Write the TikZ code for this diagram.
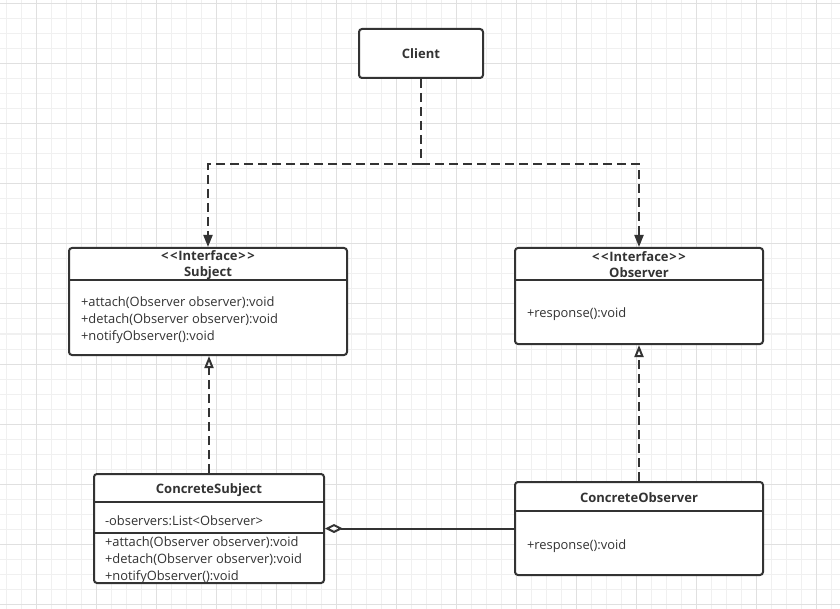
\documentclass[tikz,border=0pt]{standalone}
\usepackage{fontspec}
\setmainfont{Open Sans}[Ligatures=TeXOff]
\usetikzlibrary{arrows.meta, positioning, calc}
\definecolor{cdark}{HTML}{333333}
\definecolor{cminor}{HTML}{F0F0F0}
\definecolor{cmajor}{HTML}{E0E0E0}
\tikzset{
  every picture/.style={x=1pt, y=-1pt, line width=2pt},
  classbox/.style={draw=cdark, fill=white, rounded corners=3pt, inner sep=0pt},
  divider/.style={draw=cdark, line width=2pt},
  heading/.style={font=\bfseries\fontsize{13}{16}\selectfont, text=cdark, align=center, inner sep=0pt},
  members/.style={font=\fontsize{12.9}{17}\selectfont, text=cdark, align=left, inner sep=0pt, anchor=west},
  dashline/.style={draw=cdark, dash pattern=on 9pt off 5pt},
  depends/.style={dashline, -{Triangle[length=12pt, width=9pt]}},
  realizes/.style={dashline, -{Triangle[open, length=12pt, width=9pt, line width=2pt]}},
  aggregates/.style={draw=cdark, {Diamond[open, length=18pt, width=9pt, line width=2pt]}-},
}
\newcommand{\stereo}{<\hspace{1.5pt}<\hspace{0.8pt}Interface\hspace{0.8pt}>\hspace{1.5pt}>}

\begin{document}
\begin{tikzpicture}
  \useasboundingbox (0,0) rectangle (840,609);
  % background grid
  \foreach \x in {6,21,...,840} \draw[cminor, line width=1pt] (\x,0) -- (\x,609);
  \foreach \y in {4,19,...,609} \draw[cminor, line width=1pt] (0,\y) -- (840,\y);
  \foreach \x in {36,96,...,840} \draw[cmajor, line width=1pt] (\x,0) -- (\x,609);
  \foreach \y in {4,64,...,609} \draw[cmajor, line width=1pt] (0,\y) -- (840,\y);

  % classes
  \node[classbox, minimum width=124, minimum height=49, font=\bfseries\fontsize{13}{16}\selectfont, text=cdark] (client) at (421,53.5) {Client};

  \node[classbox, minimum width=278, minimum height=107] (subject) at (208,301.5) {};
  \draw[divider] ($(subject.north west)+(0,33)$) -- ($(subject.north east)+(0,33)$);
  \node[heading] (subjecthead) at (208,265) {\stereo\\Subject};
  \node[members] (subjectops) at (80,320) {+attach(Observer observer):void\\+detach(Observer observer):void\\+notifyObserver():void};

  \node[classbox, minimum width=248, minimum height=96] (observer) at (639,296) {};
  \draw[divider] ($(observer.north west)+(0,33)$) -- ($(observer.north east)+(0,33)$);
  \node[heading] (observerhead) at (639,265) {\stereo\\Observer};
  \node[members] (observerops) at (526,314.5) {+response():void};

  \node[classbox, minimum width=230, minimum height=109] (csubject) at (209,528.5) {};
  \draw[divider] ($(csubject.north west)+(0,29)$) -- ($(csubject.north east)+(0,29)$);
  \draw[divider] ($(csubject.north west)+(0,60)$) -- ($(csubject.north east)+(0,60)$);
  \node[heading] (csubjecthead) at (209,490) {ConcreteSubject};
  \node[members] (csubjectattr) at (104,520.5) {-observers:List<Observer>};
  \node[members] (csubjectops) at (104,560) {+attach(Observer observer):void\\+detach(Observer observer):void\\+notifyObserver():void};

  \node[classbox, minimum width=248, minimum height=93] (cobserver) at (639,528.5) {};
  \draw[divider] ($(cobserver.north west)+(0,30)$) -- ($(cobserver.north east)+(0,30)$);
  \node[heading] (cobserverhead) at (639,498) {ConcreteObserver};
  \node[members] (cobserverops) at (526,546.5) {+response():void};

  % connectors
  \coordinate (fork) at ($(client.south)+(0,85)$);
  \draw[dashline] (client.south) -- (fork);
  \draw[depends] (fork) -| (subject.north);
  \draw[depends] (fork) -| (observer.north);
  \draw[realizes] (csubject.north) -- (csubject.north |- subject.south);
  \draw[realizes] (cobserver.north) -- (observer.south);
  \draw[aggregates] (csubject.east) -- (cobserver.west |- csubject.east);
\end{tikzpicture}
\end{document}
